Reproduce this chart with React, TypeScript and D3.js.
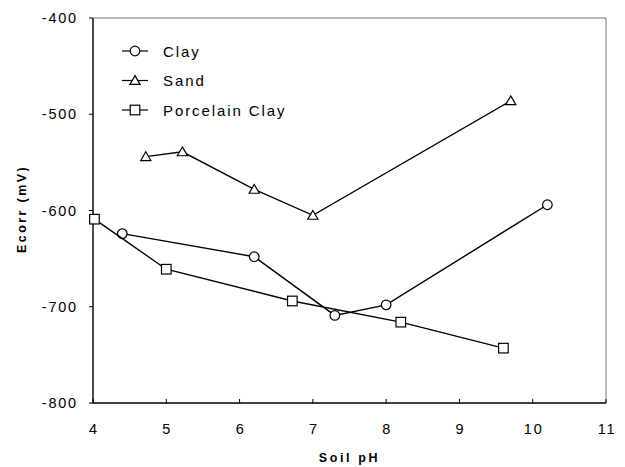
import React, { useEffect, useRef } from "react";
import * as d3 from "d3";

// --- data ---
const clayPH = [4.4, 6.2, 7.3, 8.0, 10.2];
const clayE = [-624, -648, -709, -698, -594];
const sandPH = [4.72, 5.22, 6.2, 7.0, 9.7];
const sandE = [-544, -539, -578, -605, -486];
const porcPH = [4.02, 5.0, 6.72, 8.2, 9.6];
const porcE = [-609, -661, -694, -716, -743];
const xTicks = [4, 5, 6, 7, 8, 9, 10, 11];
const yTicks = [-400, -500, -600, -700, -800];
const seriesNames = ["Clay", "Sand", "Porcelain Clay"];
const markerKinds = ["circle", "triangle", "square"];

const W = 625;
const H = 467;

function drawMarker(g: any, kind: string, x: number, y: number) {
  if (kind === "circle") {
    g.append("circle").attr("cx", x).attr("cy", y).attr("r", 4.8)
      .attr("fill", "white").attr("stroke", "black").attr("stroke-width", 1.2);
  } else if (kind === "square") {
    g.append("rect").attr("x", x - 4.8).attr("y", y - 4.8).attr("width", 9.6).attr("height", 9.6)
      .attr("fill", "white").attr("stroke", "black").attr("stroke-width", 1.2);
  } else {
    const s = d3.symbol().type(d3.symbolTriangle).size(45);
    g.append("path").attr("d", s()).attr("transform", `translate(${x},${y + 1})`)
      .attr("fill", "white").attr("stroke", "black").attr("stroke-width", 1.2);
  }
}

export default function App() {
  const ref = useRef<SVGSVGElement>(null);

  useEffect(() => {
    const svg = d3.select(ref.current);
    svg.selectAll("*").remove();

    const left = 93, right = 606, top = 18, bottom = 403;
    const x = d3.scaleLinear().domain([4, 11]).range([left, right]);
    const y = d3.scaleLinear().domain([-800, -400]).range([bottom, top]);
    const font = "'Liberation Sans', Arial, sans-serif";

    svg.append("rect").attr("width", W).attr("height", H).attr("fill", "white");

    // frame: top/right light, left/bottom black
    svg.append("path")
      .attr("d", `M${left},${top}H${right}V${bottom}`)
      .attr("fill", "none").attr("stroke", "#777").attr("stroke-width", 1);
    svg.append("path")
      .attr("d", `M${left},${top}V${bottom}H${right}`)
      .attr("fill", "none").attr("stroke", "black").attr("stroke-width", 1.4);

    // y ticks
    yTicks.forEach(t => {
      svg.append("line").attr("x1", left - 4).attr("x2", left).attr("y1", y(t)).attr("y2", y(t))
        .attr("stroke", "black");
      svg.append("text").attr("x", left - 15).attr("y", y(t) + 5)
        .attr("text-anchor", "end").attr("font-family", font).attr("font-size", 14.5)
        .attr("letter-spacing", 1.8).text(t);
    });

    // x ticks
    xTicks.forEach(t => {
      svg.append("line").attr("x1", x(t)).attr("x2", x(t)).attr("y1", bottom).attr("y2", bottom - 4)
        .attr("stroke", "black");
      svg.append("text").attr("x", x(t) + 1).attr("y", bottom + 31)
        .attr("text-anchor", "middle").attr("font-family", font).attr("font-size", 14.5)
        .attr("letter-spacing", 1.8).text(t);
    });

    // axis titles
    svg.append("text").attr("x", (left + right) / 2).attr("y", bottom + 59)
      .attr("text-anchor", "middle").attr("font-family", font).attr("font-size", 12.5)
      .attr("font-weight", "bold").attr("letter-spacing", 2.6).text("Soil pH");
    svg.append("text").attr("transform", `translate(26,209) rotate(-90)`)
      .attr("text-anchor", "middle").attr("font-family", font).attr("font-size", 12.5)
      .attr("font-weight", "bold").attr("letter-spacing", 2.4).text("Ecorr (mV)");

    const series = [
      { xs: clayPH, ys: clayE },
      { xs: sandPH, ys: sandE },
      { xs: porcPH, ys: porcE },
    ];
    const line = d3.line<[number, number]>().x(d => x(d[0])).y(d => y(d[1]));

    const g = svg.append("g");
    series.forEach((s, i) => {
      const pts: [number, number][] = s.xs.map((v, j) => [v, s.ys[j]]);
      g.append("path").attr("d", line(pts)).attr("fill", "none")
        .attr("stroke", "black").attr("stroke-width", 1.4);
      pts.forEach(p => drawMarker(g, markerKinds[i], x(p[0]), y(p[1])));
    });

    // legend
    const leg = svg.append("g");
    seriesNames.forEach((name, i) => {
      const ly = 51 + i * 29.5;
      leg.append("line").attr("x1", 122).attr("x2", 148).attr("y1", ly).attr("y2", ly)
        .attr("stroke", "black").attr("stroke-width", 1.2);
      drawMarker(leg, markerKinds[i], 135, ly);
      leg.append("text").attr("x", 163).attr("y", ly + 5.5)
        .attr("font-family", font).attr("font-size", 15).attr("letter-spacing", 1.9).text(name);
    });
  }, []);

  return <svg ref={ref} width={W} height={H} style={{ position: "absolute", left: 0, top: 0 }} />;
}
